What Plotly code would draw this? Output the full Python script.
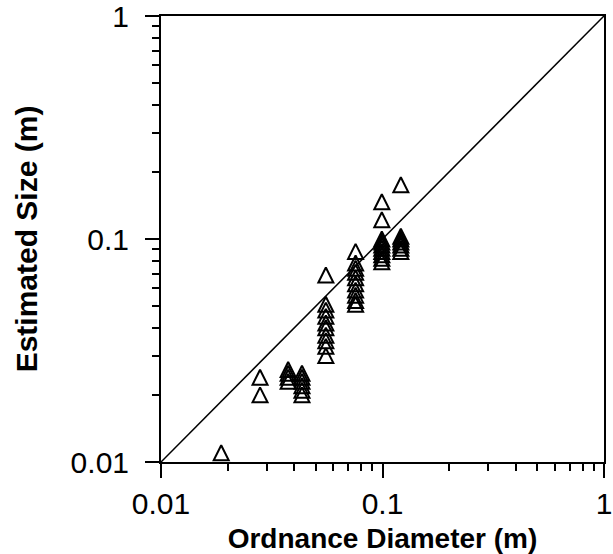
import plotly.graph_objects as go

# Ordnance diameter (m) and estimated size (m)
diameter = (
    [0.0187]
    + [0.028] * 2
    + [0.0375] * 4
    + [0.0433] * 6
    + [0.0555] * 10
    + [0.0756] * 10
    + [0.0993] * 10
    + [0.121] * 7
)
estimated = (
    [0.011]
    + [0.024, 0.020]
    + [0.026, 0.025, 0.024, 0.023]
    + [0.025, 0.024, 0.023, 0.022, 0.021, 0.020]
    + [0.069, 0.051, 0.048, 0.045, 0.042, 0.040, 0.037, 0.035, 0.033, 0.030]
    + [0.088, 0.078, 0.074, 0.071, 0.067, 0.063, 0.059, 0.056, 0.053, 0.051]
    + [0.147, 0.122, 0.100, 0.097, 0.094, 0.091, 0.088, 0.085, 0.082, 0.079]
    + [0.175, 0.103, 0.100, 0.097, 0.094, 0.091, 0.088]
)

# 1:1 reference line
line_x = [0.01, 1]
line_y = [0.01, 1]

x_ticks = [0.01, 0.1, 1]
x_tick_labels = ["0.01", "0.1", "1"]
y_ticks = [0.01, 0.1, 1]
y_tick_labels = ["0.01", "0.1", "1"]

FONT = "Liberation Sans, Arial, sans-serif"

W, H = 613, 554
M_L, M_R, M_T, M_B = 161, 9, 16, 92
PLOT_H = H - M_T - M_B
Y_RANGE = [-2, 0]

# The "arrow-up" marker has its apex on the data point; a hidden twin y-axis
# shifted by half the marker height centres each triangle on its value.
MARKER_SIZE = 15
shift_dec = (MARKER_SIZE / 2) / PLOT_H * (Y_RANGE[1] - Y_RANGE[0])

fig = go.Figure()
fig.add_trace(go.Scatter(
    x=line_x, y=line_y, mode="lines",
    line=dict(color="black", width=1.5),
    showlegend=False, hoverinfo="skip",
))
fig.add_trace(go.Scatter(
    x=diameter, y=estimated, mode="markers", yaxis="y2",
    marker=dict(symbol="arrow-up-open", size=MARKER_SIZE, color="black",
                line=dict(color="black", width=2)),
    showlegend=False,
))

axis_common = dict(
    type="log",
    range=Y_RANGE,
    showgrid=False,
    zeroline=False,
    showline=True,
    linecolor="black",
    linewidth=2,
    mirror=True,
    ticks="outside",
    ticklen=14,
    tickwidth=2,
    tickcolor="black",
    tickfont=dict(family=FONT, size=30, color="black"),
    minor=dict(ticks="outside", ticklen=7, tickwidth=2, tickcolor="black", dtick="D1", showgrid=False),
    automargin=False,
    ticklabeloverflow="allow",
)

fig.update_xaxes(
    **axis_common,
    tickmode="array", tickvals=x_ticks, ticktext=x_tick_labels,
    title=dict(text="<b>Ordnance Diameter (m)</b>", font=dict(family=FONT, size=28, color="black"), standoff=10),
)
fig.update_yaxes(
    **axis_common,
    tickmode="array", tickvals=y_ticks, ticktext=y_tick_labels,
    ticklabelstandoff=10,
    title=dict(text="<b>Estimated Size (m)</b>", font=dict(family=FONT, size=30, color="black"), standoff=24),
)

fig.update_layout(
    width=W, height=H,
    margin=dict(l=M_L, r=M_R, t=M_T, b=M_B),
    plot_bgcolor="white",
    paper_bgcolor="white",
    yaxis2=dict(
        type="log", overlaying="y", anchor="x", visible=False,
        range=[Y_RANGE[0] - shift_dec, Y_RANGE[1] - shift_dec],
    ),
)

fig.write_html("out.html")
